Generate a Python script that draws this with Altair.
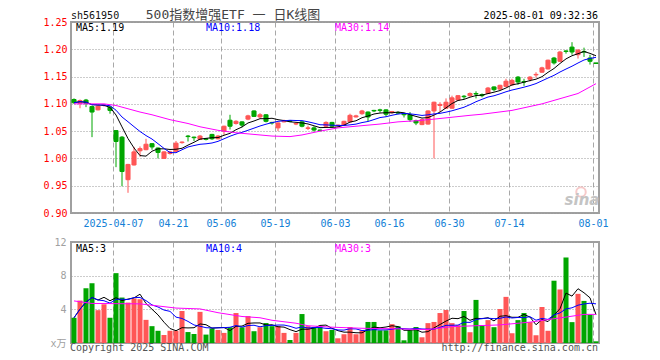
import altair as alt
import pandas as pd

# ---------------- data ----------------
OPEN = [1.108, 1.101, 1.107, 1.095, 1.089, 1.097, 1.094, 1.051, 1.039, 0.961,
        0.988, 1.014, 1.016, 1.027, 1.019, 1.000, 1.009, 1.013, 1.029, 1.041,
        1.039, 1.035, 1.036, 1.044, 1.036, 1.050, 1.070, 1.064, 1.067, 1.072,
        1.087, 1.076, 1.080, 1.066, 1.056, 1.067, 1.069, 1.063, 1.067, 1.055,
        1.056, 1.052, 1.059, 1.066, 1.060, 1.061, 1.067, 1.076, 1.082, 1.085,
        1.088, 1.089, 1.089, 1.084, 1.084, 1.082, 1.080, 1.069, 1.062, 1.063,
        1.087, 1.097, 1.092, 1.092, 1.107, 1.114, 1.115, 1.119, 1.117, 1.119,
        1.131, 1.127, 1.132, 1.135, 1.149, 1.141, 1.145, 1.153, 1.158, 1.164,
        1.184, 1.178, 1.197, 1.204, 1.190, 1.196, 1.184, 1.175]
HIGH = [1.110, 1.108, 1.109, 1.097, 1.098, 1.099, 1.096, 1.052, 1.041, 0.990,
        1.021, 1.022, 1.036, 1.028, 1.020, 1.013, 1.014, 1.032, 1.031, 1.043,
        1.040, 1.043, 1.037, 1.045, 1.043, 1.060, 1.080, 1.070, 1.068, 1.080,
        1.088, 1.083, 1.081, 1.067, 1.066, 1.071, 1.070, 1.066, 1.068, 1.060,
        1.059, 1.053, 1.068, 1.067, 1.062, 1.069, 1.082, 1.080, 1.089, 1.086,
        1.089, 1.091, 1.090, 1.087, 1.086, 1.083, 1.085, 1.071, 1.073, 1.088,
        1.104, 1.103, 1.110, 1.115, 1.116, 1.116, 1.121, 1.123, 1.119, 1.131,
        1.132, 1.135, 1.146, 1.146, 1.151, 1.146, 1.151, 1.158, 1.168, 1.181,
        1.186, 1.197, 1.198, 1.213, 1.200, 1.203, 1.190, 1.175]
LOW = [1.100, 1.092, 1.094, 1.039, 1.088, 1.095, 1.082, 0.984, 0.949, 0.937,
       0.987, 1.003, 1.015, 1.016, 1.000, 0.999, 1.007, 1.012, 1.027, 1.031,
       1.032, 1.034, 1.033, 1.034, 1.035, 1.043, 1.053, 1.062, 1.057, 1.070,
       1.076, 1.073, 1.066, 1.062, 1.050, 1.066, 1.067, 1.061, 1.057, 1.052,
       1.049, 1.050, 1.057, 1.058, 1.058, 1.060, 1.066, 1.075, 1.080, 1.068,
       1.085, 1.084, 1.077, 1.082, 1.081, 1.075, 1.067, 1.061, 1.061, 1.062,
       1.000, 1.085, 1.091, 1.091, 1.106, 1.109, 1.113, 1.110, 1.112, 1.118,
       1.123, 1.125, 1.131, 1.133, 1.135, 1.133, 1.141, 1.148, 1.157, 1.163,
       1.172, 1.177, 1.192, 1.190, 1.183, 1.186, 1.172, 1.174]
CLOSE = [1.102, 1.106, 1.101, 1.085, 1.096, 1.098, 1.088, 1.031, 0.976, 0.989,
         1.012, 1.018, 1.026, 1.021, 1.011, 1.012, 1.012, 1.028, 1.030, 1.040,
         1.038, 1.041, 1.035, 1.036, 1.041, 1.059, 1.059, 1.068, 1.061, 1.078,
         1.077, 1.080, 1.068, 1.065, 1.065, 1.069, 1.068, 1.064, 1.059, 1.056,
         1.052, 1.051, 1.066, 1.059, 1.061, 1.068, 1.079, 1.078, 1.087, 1.076,
         1.087, 1.088, 1.081, 1.086, 1.083, 1.080, 1.071, 1.065, 1.071, 1.087,
         1.103, 1.099, 1.103, 1.111, 1.115, 1.113, 1.119, 1.118, 1.115, 1.129,
         1.126, 1.134, 1.1415, 1.143, 1.140, 1.140, 1.149, 1.154, 1.166, 1.180,
         1.175, 1.195, 1.196, 1.195, 1.1985, 1.195, 1.178, 1.174]
VOL = [3.0, 5.04, 6.5, 7.1, 3.9, 4.6, 3.0, 8.3, 5.4, 4.8,
       5.3, 5.2, 2.75, 2.0, 1.45, 0.95, 1.45, 1.45, 3.8, 1.3,
       1.07, 3.7, 1.0, 1.74, 1.55, 1.2, 1.87, 3.56, 1.87, 3.2,
       1.4, 1.87, 2.37, 2.0, 2.0, 1.2, 0.36, 1.2, 3.44, 2.0,
       1.9, 1.9, 1.4, 1.55, 0.56, 1.04, 1.9, 1.04, 1.5, 2.5,
       2.5, 1.5, 1.5, 2.24, 2.0, 0.32, 1.5, 1.9, 0.68, 2.36,
       2.5, 3.56, 3.92, 2.36, 2.12, 3.8, 1.28, 5.12, 2.12, 2.72,
       1.88, 4.04, 5.48, 1.16, 2.72, 3.56, 2.48, 0.92, 4.28, 1.45,
       7.4, 6.36, 10.16, 2.48, 5.84, 5.0, 3.36, 0.2]

# 30-day moving averages (candle index, value)
MA30_IDX = [0, 5, 7, 8, 11, 13, 16, 19, 21, 24, 27, 30, 33, 36, 38, 41, 44, 47,
            51, 54, 57, 60, 63, 66, 68, 73, 78, 84, 87]
MA30_VAL = [1.100, 1.100, 1.097, 1.094, 1.085, 1.080, 1.071, 1.064, 1.058, 1.0515,
            1.047, 1.044, 1.041, 1.040, 1.043, 1.050, 1.056, 1.059, 1.063, 1.067,
            1.069, 1.072, 1.0755, 1.079, 1.081, 1.088, 1.100, 1.119, 1.137]
VMA30_IDX = [0, 3, 11, 14, 17, 21, 24, 28, 31, 33, 37, 39, 43, 48, 54, 59, 63,
             71, 76, 82, 85, 87]
VMA30_VAL = [5.0, 4.7, 4.65, 4.4, 4.15, 4.05, 3.6, 3.15, 3.0, 2.7, 2.35, 2.05,
             1.88, 1.75, 1.68, 1.6, 1.95, 2.15, 2.48, 3.08, 3.4, 3.4]

TICK_POS = [6.5, 16.5, 24.5, 33.5, 43.5, 52.5, 62.5, 72.5, 86.5]
TICK_LABELS = ["2025-04-07", "04-21", "05-06", "05-19", "06-03", "06-16",
               "06-30", "07-14", "08-01"]
PRICE_TICKS = [0.90, 0.95, 1.00, 1.05, 1.10, 1.15, 1.20, 1.25]
VOL_TICKS = [0, 4, 8, 12]

# ---------------- tables ----------------
N = len(CLOSE)
df = pd.DataFrame({
    "i": list(range(N)), "open": OPEN, "high": HIGH, "low": LOW,
    "close": CLOSE, "vol": VOL,
    "dir": ["up" if c >= o else "down" for o, c in zip(OPEN, CLOSE)],
})
ma30 = pd.DataFrame({"i": MA30_IDX, "v": MA30_VAL})
vma30 = pd.DataFrame({"i": VMA30_IDX, "v": VMA30_VAL})

MONO = "DejaVu Sans Mono, Noto Sans CJK SC"
RED = "#ff5656"
GREEN = "#00a600"
cscale = alt.Scale(domain=["up", "down"], range=[RED, GREEN])
color = alt.Color("dir:N", scale=cscale, legend=None)
stroke = alt.Stroke("dir:N", scale=cscale, legend=None)

label_expr = " : ".join(f"datum.value == {p} ? '{l}'" for p, l in zip(TICK_POS, TICK_LABELS)) + " : ''"
xscale = alt.Scale(domain=[-0.5, N - 0.5], nice=False, zero=False)

xaxis_p = alt.Axis(values=TICK_POS, labelExpr=label_expr, title=None, grid=True,
                   gridDash=[5, 3], gridColor="#a8a8a8", ticks=False, domain=False,
                   labelColor="#1380d6", labelFont=MONO, labelFontSize=10,
                   labelPadding=5, labelFlush=False, labelOverlap=False)
xaxis_v = alt.Axis(values=TICK_POS, labels=False, title=None, grid=True,
                   gridDash=[5, 3], gridColor="#a8a8a8", ticks=False, domain=False)
yscale_p = alt.Scale(domain=[0.90, 1.25], nice=False, zero=False)
yaxis_p = alt.Axis(values=PRICE_TICKS, format=".2f", title=None, grid=True,
                   gridDash=[1, 2], gridColor="#999999", ticks=False, domain=False,
                   labelColor="#ff0000", labelFont=MONO, labelFontSize=10,
                   labelPadding=4, labelFlush=False)
yscale_v = alt.Scale(domain=[0, 12], nice=False, zero=True)
yaxis_v = alt.Axis(values=VOL_TICKS, labelExpr="datum.value == 0 ? 'x万' : datum.label",
                   title=None, grid=True, gridDash=[1, 2], gridColor="#999999",
                   ticks=False, domain=False, labelColor="#a0a0a0", labelFont=MONO,
                   labelFontSize=10, labelPadding=5, labelFlush=False)


def XP(f):
    return alt.X(f + ":Q", scale=xscale, axis=xaxis_p)


def YP(f):
    return alt.Y(f + ":Q", scale=yscale_p, axis=yaxis_p)


def XV(f):
    return alt.X(f + ":Q", scale=xscale, axis=xaxis_v)


def YV(f):
    return alt.Y(f + ":Q", scale=yscale_v, axis=yaxis_v)


def txt(s, x, y, col, align="left", size=10, font=MONO, baseline="alphabetic", **kw):
    return alt.Chart(pd.DataFrame({"t": [s]})).mark_text(
        align=align, baseline=baseline, font=font, fontSize=size, color=col, **kw
    ).encode(text="t:N", x=alt.value(x), y=alt.value(y))


base = alt.Chart(df)

# ---------------- price panel ----------------
wick = base.mark_rule(strokeWidth=1).encode(x=XP("i"), y=YP("low"), y2="high", color=color)
body = base.transform_calculate(xl="datum.i - 0.34", xr="datum.i + 0.34").mark_rect(
    strokeWidth=1).encode(x=XP("xl"), x2="xr", y=YP("open"), y2="close",
                          color=color, stroke=stroke)
ma5 = base.transform_window(ma5="mean(close)", frame=[-4, 0], sort=[{"field": "i"}]).mark_line(
    color="black", strokeWidth=1).encode(x=XP("i"), y=YP("ma5"))
ma10 = base.transform_window(ma10="mean(close)", frame=[-9, 0], sort=[{"field": "i"}]).mark_line(
    color="#0000ff", strokeWidth=1).encode(x=XP("i"), y=YP("ma10"))
ma30l = alt.Chart(ma30).mark_line(color="#ff00ff", strokeWidth=1).encode(x=XP("i"), y=YP("v"))

price = alt.layer(
    wick, body, ma5, ma10, ma30l,
    # invisible anchor fixing the top-left corner of the whole drawing
    txt(".", -62, -12, "#ffffff", baseline="top"),
    txt("sh561950", 0, -3, "#111111"),
    txt("500指数增强ETF 一 日K线图", 162, -3, "#444444", align="center", size=13),
    txt("2025-08-01 09:32:36", 527, -3, "#000000", align="right"),
    txt("MA5:1.19", 5, 9, "#000000"),
    txt("MA10:1.18", 135, 9, "#0000ff"),
    txt("MA30:1.14", 264, 9, "#ff00ff"),
    alt.Chart(pd.DataFrame({"t": ["logo"]})).mark_point(
        shape="circle", filled=False, stroke="#f4b4b4", strokeWidth=2, size=90
    ).encode(x=alt.value(510), y=alt.value(170)),
    txt("sina", 511, 183, "#c4c4c4", align="center", size=15,
        font="DejaVu Sans", fontWeight="bold", fontStyle="italic"),
).properties(width=528, height=191)

# ---------------- volume panel ----------------
vbase = alt.Chart(df)
vbar = vbase.transform_calculate(xl="datum.i - 0.42", xr="datum.i + 0.42").mark_rect().encode(
    x=XV("xl"), x2="xr", y=YV("vol"), y2=alt.datum(0), color=color)
vma5 = vbase.transform_window(m5="mean(vol)", frame=[-4, 0], sort=[{"field": "i"}]).mark_line(
    color="black", strokeWidth=1).encode(x=XV("i"), y=YV("m5"))
vma10 = vbase.transform_window(m10="mean(vol)", frame=[-9, 0], sort=[{"field": "i"}]).mark_line(
    color="#0000ff", strokeWidth=1).encode(x=XV("i"), y=YV("m10"))
vma30l = alt.Chart(vma30).mark_line(color="#ff00ff", strokeWidth=1).encode(x=XV("i"), y=YV("v"))

volume = alt.layer(
    vbar, vma5, vma10, vma30l,
    txt("MA5:3", 5, 10, "#000000"),
    txt("MA10:4", 135, 10, "#0000ff"),
    txt("MA30:3", 264, 10, "#ff00ff"),
    txt("Copyright 2025 SINA.COM", -1, 109, "#555555"),
    txt("http://finance.sina.com.cn", 527, 109, "#555555", align="right"),
).properties(width=528, height=101)

chart = alt.vconcat(price, volume, spacing=29, bounds="flush").properties(
    padding=0,
    background="white",
).configure_view(stroke="#a0a0a0", strokeWidth=2)

chart.save("out.html", embed_options={"renderer": "svg", "actions": False})
